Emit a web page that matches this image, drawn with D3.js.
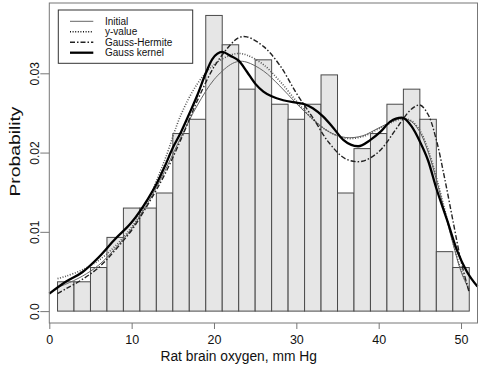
<!DOCTYPE html>
<html>
<head>
<meta charset="utf-8">
<script src="https://cdn.jsdelivr.net/npm/d3@7"></script>
<style>
  body { margin: 0; background: #fff; }
  svg { font-family: 'Liberation Sans', Arial, sans-serif; }
</style>
</head>
<body>
<div id="chart"></div>
<script>
// histogram bins (lower edge, width 2) and densities
const binStarts = [1, 3, 5, 7, 9, 11, 13, 15, 17, 19, 21, 23, 25, 27, 29, 31, 33, 35, 37, 39, 41, 43, 45, 47, 49];
const binWidth = 2;
const binDensity = [0.0037, 0.0037, 0.0055, 0.0093, 0.0130, 0.0130, 0.0149, 0.0224, 0.0242, 0.0373,
  0.0336, 0.0280, 0.0317, 0.0261, 0.0242, 0.0261, 0.0298, 0.0149, 0.0205, 0.0224,
  0.0261, 0.0280, 0.0242, 0.0075, 0.0055];

// smooth fits share one grid
const fitX = [1, 2, 4, 6, 8, 10, 12, 14, 16, 18, 20, 22, 23, 24, 26, 28, 30, 32, 34, 36, 38, 40, 42, 43, 44, 45, 46, 47, 48, 49, 50, 51];
const initialY = [0.0030, 0.0034, 0.0044, 0.0058, 0.0079, 0.0104, 0.0137, 0.0176, 0.0220, 0.0260, 0.0292, 0.0311, 0.0315, 0.0314,
  0.0303, 0.0284, 0.0262, 0.0242, 0.0226, 0.0219, 0.0221, 0.0231, 0.0241, 0.0243, 0.0239, 0.0226, 0.0201, 0.0166, 0.0126,
  0.0086, 0.0050, 0.0026];
const yValueY = [0.0041, 0.0044, 0.0052, 0.0064, 0.0082, 0.0106, 0.0141, 0.0190, 0.0248, 0.0287, 0.0311, 0.0323, 0.0325, 0.0323,
  0.0311, 0.0290, 0.0265, 0.0242, 0.0226, 0.0218, 0.0220, 0.0230, 0.0240, 0.0243, 0.0240, 0.0228, 0.0204, 0.0169, 0.0129,
  0.0088, 0.0052, 0.0028];
const hermiteY = [0.0022, 0.0028, 0.0040, 0.0055, 0.0077, 0.0102, 0.0135, 0.0172, 0.0217, 0.0266, 0.0308, 0.0336, 0.0345, 0.0346,
  0.0334, 0.0310, 0.0275, 0.0244, 0.0212, 0.0192, 0.0189, 0.0201, 0.0228, 0.0243, 0.0255, 0.0260, 0.0248, 0.0216, 0.0168,
  0.0115, 0.0063, 0.0023];

// kernel estimate on its own grid
const kernelX = [0, 2, 4, 6, 8, 10, 12, 13, 14, 15, 16, 17, 18, 19, 19.8, 21, 22, 23, 24, 25, 26, 27, 28.4, 30, 31, 32, 33.3,
  34.5, 35.7, 37.5, 39, 40.2, 41.4, 42.8, 44, 45, 46, 47, 48.3, 49.5, 50.7, 52];
const kernelY = [0.0022, 0.0037, 0.0049, 0.0068, 0.0091, 0.0112, 0.0142, 0.0160, 0.0182, 0.0206, 0.0226, 0.0249, 0.0273, 0.0300,
  0.0318, 0.0327, 0.0322, 0.0316, 0.0302, 0.0287, 0.0277, 0.0271, 0.0266, 0.0263, 0.0261, 0.0256, 0.0245, 0.0231, 0.0216,
  0.0208, 0.0216, 0.0226, 0.0239, 0.0244, 0.0233, 0.0214, 0.0190, 0.0155, 0.0115, 0.0077, 0.0050, 0.0031];

const xTicks = [0, 10, 20, 30, 40, 50];
const yTicks = [0, 0.01, 0.02, 0.03];
const yTickLabels = ['0.0', '0.01', '0.02', '0.03'];
const legendLabels = ['Initial', 'y-value', 'Gauss-Hermite', 'Gauss kernel'];

const W = 498;
const H = 374;
const plot = { left: 49.3, right: 477.5, top: 3, bottom: 323 };

const svg = d3.select('#chart').append('svg')
  .attr('width', W)
  .attr('height', H);

const x = d3.scaleLinear().domain([0, 52]).range([plot.left, plot.right]);
const y = d3.scaleLinear().domain([-0.0015, 0.03887]).range([plot.bottom, plot.top]);

// bars
svg.append('g').selectAll('rect')
  .data(binStarts.map((s, i) => ({ x0: s, x1: s + binWidth, d: binDensity[i] })))
  .join('rect')
  .attr('x', (d) => x(d.x0))
  .attr('width', (d) => x(d.x1) - x(d.x0))
  .attr('y', (d) => y(d.d))
  .attr('height', (d) => y(0) - y(d.d))
  .attr('fill', '#e6e6e6')
  .attr('stroke', '#4a4a4a')
  .attr('stroke-width', 1);

const styles = [
  { stroke: '#666', width: 1, dash: null },
  { stroke: '#555', width: 1.6, dash: '1,1.6' },
  { stroke: '#222', width: 1.4, dash: '5,2,1.5,2' },
  { stroke: '#000', width: 2.3, dash: null },
];

const curves = [
  fitX.map((v, i) => [v, initialY[i]]),
  fitX.map((v, i) => [v, yValueY[i]]),
  fitX.map((v, i) => [v, hermiteY[i]]),
  kernelX.map((v, i) => [v, kernelY[i]]),
];

const smooth = d3.line()
  .x((d) => x(d[0]))
  .y((d) => y(d[1]))
  .curve(d3.curveCatmullRom);
const kernelLine = d3.line()
  .x((d) => x(d[0]))
  .y((d) => y(d[1]))
  .curve(d3.curveMonotoneX);

curves.forEach((c, i) => {
  svg.append('path')
    .attr('d', i === 3 ? kernelLine(c) : smooth(c))
    .attr('fill', 'none')
    .attr('stroke', styles[i].stroke)
    .attr('stroke-width', styles[i].width)
    .attr('stroke-dasharray', styles[i].dash)
    .attr('stroke-linejoin', 'round');
});

// box
svg.append('rect')
  .attr('x', plot.left)
  .attr('y', plot.top)
  .attr('width', plot.right - plot.left)
  .attr('height', plot.bottom - plot.top)
  .attr('fill', 'none')
  .attr('stroke', '#777')
  .attr('stroke-width', 1);

// x axis
const xAxisG = svg.append('g')
  .attr('transform', `translate(0,${plot.bottom})`)
  .call(d3.axisBottom(x).tickValues(xTicks).tickSize(6).tickPadding(6).tickSizeOuter(0));
xAxisG.select('.domain').remove();
xAxisG.selectAll('.tick line').attr('stroke', '#777');
xAxisG.selectAll('.tick text')
  .attr('font-size', 12.5)
  .attr('font-family', 'Liberation Sans, Arial, sans-serif')
  .attr('fill', '#111');

// y axis
const yAxisG = svg.append('g')
  .attr('transform', `translate(${plot.left},0)`)
  .call(d3.axisLeft(y).tickValues(yTicks).tickSize(9).tickFormat((d, i) => yTickLabels[i]).tickSizeOuter(0));
yAxisG.select('.domain').remove();
yAxisG.selectAll('.tick line').attr('stroke', '#777');
yAxisG.selectAll('.tick text')
  .attr('font-size', 12)
  .attr('font-family', 'Liberation Sans, Arial, sans-serif')
  .attr('fill', '#111')
  .attr('text-anchor', 'middle')
  .attr('x', null)
  .attr('dy', null)
  .attr('transform', 'translate(-10,0) rotate(-90)');

svg.append('text')
  .attr('x', 238.7)
  .attr('y', 361)
  .attr('text-anchor', 'middle')
  .attr('font-size', 13.8)
  .attr('fill', '#111')
  .text('Rat brain oxygen, mm Hg');

svg.append('text')
  .attr('transform', `translate(20,${151.5}) rotate(-90)`)
  .attr('text-anchor', 'middle')
  .attr('font-size', 14)
  .attr('textLength', 90)
  .attr('lengthAdjust', 'spacingAndGlyphs')
  .attr('fill', '#111')
  .text('Probability');

// legend
const legend = svg.append('g');
legend.append('rect')
  .attr('x', 58.3)
  .attr('y', 10)
  .attr('width', 134.4)
  .attr('height', 53.3)
  .attr('fill', '#fff')
  .attr('stroke', '#333')
  .attr('stroke-width', 1);

const rowY = d3.scalePoint().domain(legendLabels).range([21.3, 52.7]);
legendLabels.forEach((lab, i) => {
  legend.append('line')
    .attr('x1', 70)
    .attr('x2', 93.3)
    .attr('y1', rowY(lab))
    .attr('y2', rowY(lab))
    .attr('stroke', i === 1 ? '#111' : styles[i].stroke)
    .attr('stroke-width', styles[i].width)
    .attr('stroke-dasharray', styles[i].dash);
  legend.append('text')
    .attr('x', 105)
    .attr('y', rowY(lab) + 3.6)
    .attr('font-size', 10)
    .attr('fill', '#111')
    .text(lab);
});
</script>
</body>
</html>
